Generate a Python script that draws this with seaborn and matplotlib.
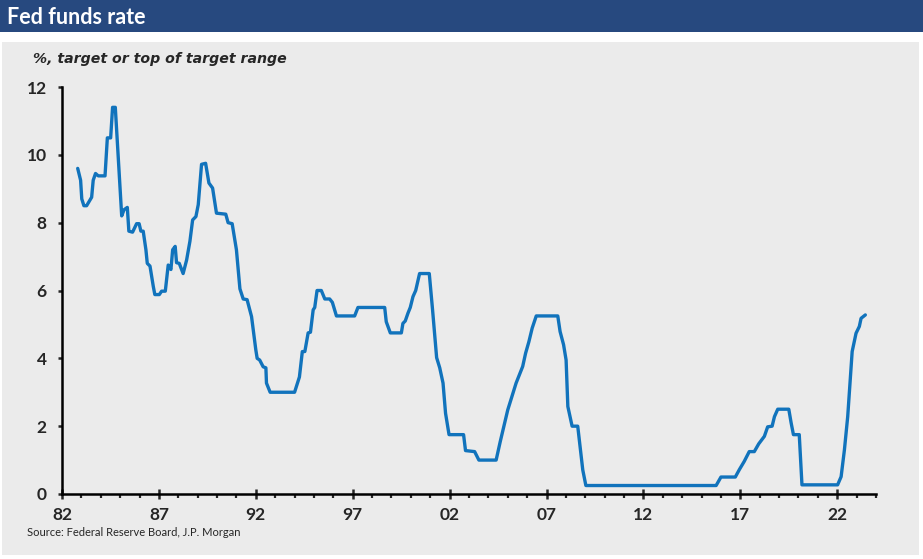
import matplotlib
matplotlib.use('Agg')
import matplotlib.pyplot as plt
import seaborn as sns
import pandas as pd
from matplotlib.patches import Rectangle
from matplotlib.ticker import MultipleLocator

# Fed funds rate, %, target or top of target range
dates = [
    1982.81, 1982.96, 1983.02, 1983.13, 1983.27, 1983.53, 1983.61, 1983.73, 1983.87, 1984.22,
    1984.34, 1984.51, 1984.61, 1984.75, 1985.08, 1985.20, 1985.37, 1985.45, 1985.64, 1985.85,
    1985.98, 1986.07, 1986.19, 1986.33, 1986.40, 1986.54, 1986.71, 1986.79, 1987.02, 1987.14,
    1987.33, 1987.48, 1987.62, 1987.71, 1987.84, 1987.91, 1988.05, 1988.25, 1988.43, 1988.60,
    1988.74, 1988.91, 1989.03, 1989.20, 1989.41, 1989.58, 1989.77, 1989.97, 1990.45, 1990.57,
    1990.78, 1991.00, 1991.18, 1991.35, 1991.55, 1991.78, 1992.00, 1992.07, 1992.20, 1992.38,
    1992.52, 1992.55, 1992.74, 1994.00, 1994.25, 1994.40, 1994.53, 1994.70, 1994.82, 1994.96,
    1995.04, 1995.16, 1995.38, 1995.56, 1995.81, 1995.95, 1996.16, 1997.10, 1997.27, 1998.65,
    1998.73, 1998.94, 1999.51, 1999.59, 1999.71, 1999.85, 1999.97, 2000.11, 2000.25, 2000.45,
    2000.95, 2001.12, 2001.33, 2001.49, 2001.66, 2001.79, 2001.97, 2002.72, 2002.82, 2003.29,
    2003.51, 2004.40, 2004.61, 2005.00, 2005.43, 2005.77, 2005.92, 2006.09, 2006.26, 2006.47,
    2007.58, 2007.70, 2007.88, 2008.01, 2008.10, 2008.32, 2008.61, 2008.87, 2009.03, 2015.75,
    2016.00, 2016.74, 2016.95, 2017.20, 2017.46, 2017.72, 2017.95, 2018.24, 2018.41, 2018.64,
    2018.76, 2018.93, 2019.50, 2019.62, 2019.74, 2020.04, 2020.18, 2022.02, 2022.20, 2022.37,
    2022.54, 2022.77, 2022.97, 2023.14, 2023.23, 2023.45,
]
rate = [
    9.60, 9.25, 8.70, 8.50, 8.50, 8.75, 9.25, 9.45, 9.38, 9.38,
    10.50, 10.50, 11.40, 11.40, 8.20, 8.38, 8.45, 7.75, 7.72, 7.97,
    7.97, 7.75, 7.75, 7.20, 6.80, 6.72, 6.12, 5.88, 5.88, 5.98,
    5.98, 6.75, 6.62, 7.20, 7.30, 6.82, 6.80, 6.50, 6.90, 7.45,
    8.08, 8.18, 8.53, 9.72, 9.75, 9.17, 9.02, 8.28, 8.25, 8.00,
    7.97, 7.20, 6.05, 5.75, 5.73, 5.23, 4.25, 4.00, 3.95, 3.75,
    3.72, 3.27, 3.00, 3.00, 3.45, 4.20, 4.20, 4.75, 4.77, 5.43,
    5.50, 6.00, 6.00, 5.75, 5.75, 5.65, 5.25, 5.25, 5.50, 5.50,
    5.08, 4.75, 4.75, 5.03, 5.10, 5.33, 5.50, 5.82, 6.00, 6.50,
    6.50, 5.43, 4.02, 3.72, 3.27, 2.38, 1.75, 1.75, 1.28, 1.25,
    1.00, 1.00, 1.54, 2.48, 3.27, 3.76, 4.15, 4.49, 4.89, 5.25,
    5.25, 4.79, 4.40, 3.95, 2.58, 2.00, 2.00, 0.71, 0.25, 0.25,
    0.50, 0.50, 0.72, 0.96, 1.25, 1.25, 1.48, 1.70, 1.98, 2.00,
    2.28, 2.50, 2.50, 2.10, 1.75, 1.75, 0.27, 0.27, 0.51, 1.30,
    2.28, 4.20, 4.74, 4.94, 5.18, 5.28,
]
xtick_years = [1982, 1987, 1992, 1997, 2002, 2007, 2012, 2017, 2022]
xtick_labels = ['82', '87', '92', '97', '02', '07', '12', '17', '22']
ytick_values = [0, 2, 4, 6, 8, 10, 12]

df = pd.DataFrame({'date': dates, 'rate': rate})

panel = '#ebebeb'
sns.set_style('white', {'axes.facecolor': panel})
plt.rcParams['font.family'] = ['Lato', 'DejaVu Sans']

W, H = 923, 559
fig = plt.figure(figsize=(W / 100, H / 100), dpi=100)
fig.patch.set_facecolor('white')

# header bar and grey panel, kept behind the axes
fig.patches.append(Rectangle((0, 1 - 32 / H), 1, 32 / H, transform=fig.transFigure,
                             facecolor='#27497f', edgecolor='none', zorder=-2))
fig.patches.append(Rectangle((2 / W, 4 / H), 917 / W, (555 - 42) / H, transform=fig.transFigure,
                             facecolor=panel, edgecolor='none', zorder=-2))

ax = fig.add_axes([62 / W, 65 / H, (876 - 62) / W, (494 - 87) / H])
ax.set_zorder(2)
sns.lineplot(data=df, x='date', y='rate', ax=ax, sort=False, estimator=None,
             color='#1173bc', linewidth=2.4)

ax.set_xlim(1982, 2024)
ax.set_ylim(0, 12)
ax.set_xticks(xtick_years)
ax.set_xticklabels(xtick_labels)
ax.xaxis.set_minor_locator(MultipleLocator(1))
ax.set_yticks(ytick_values)
ax.set_xlabel('')
ax.set_ylabel('')

for side in ['top', 'right']:
    ax.spines[side].set_visible(False)
for side in ['left', 'bottom']:
    ax.spines[side].set_color('black')
    ax.spines[side].set_linewidth(1.8)

ax.tick_params(axis='x', which='major', direction='inout', length=7, width=1.8,
               pad=6, labelsize=12.5, bottom=True)
ax.tick_params(axis='x', which='minor', direction='out', length=3, width=1.6, bottom=True)
ax.tick_params(axis='y', which='major', direction='out', length=3, width=1.8,
               pad=8, labelsize=12.5, left=True)
for lbl in ax.get_xticklabels() + ax.get_yticklabels():
    lbl.set_fontweight('bold')

fig.text(7 / W, 1 - 18 / H, 'Fed funds rate', color='white', fontsize=15.5,
         fontweight='bold', va='center', ha='left')
fig.text(33 / W, 1 - 59 / H, '%, target or top of target range', fontsize=10.2,
         fontweight='bold', fontstyle='italic', va='center', ha='left',
         family=['DejaVu Sans'])
fig.text(27 / W, 1 - 533 / H, 'Source: Federal Reserve Board, J.P. Morgan', fontsize=8,
         va='center', ha='left')

fig.savefig('out.png', dpi=100, facecolor=fig.get_facecolor())
